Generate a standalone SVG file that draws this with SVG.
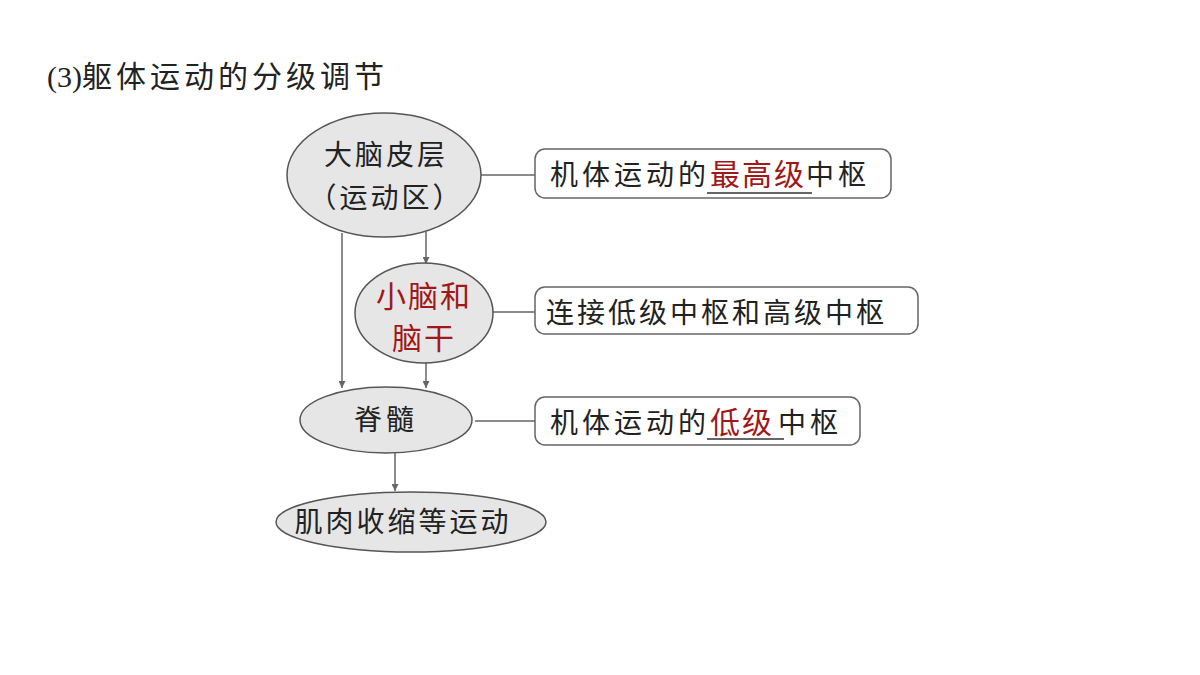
<svg xmlns="http://www.w3.org/2000/svg" width="1200" height="675" viewBox="0 0 1200 675">
<style>
.t{font-family:"Noto Sans CJK SC","Noto Sans",sans-serif;font-size:28px;fill:#222;letter-spacing:4px}
.e{fill:#e6e6e6;stroke:#555;stroke-width:1.5}
.b{fill:#fff;stroke:#666;stroke-width:1.5}
.c line{stroke:#666;stroke-width:1.5}
</style>
<defs><marker id="a" viewBox="0 0 10 10" refX="10" refY="5" markerWidth="7" markerHeight="7" orient="auto" markerUnits="userSpaceOnUse"><path d="M0,0L10,5L0,10z" fill="#666"/></marker></defs>
<rect width="1200" height="675" fill="#fff"/>
<text x="47" y="87" class="t" style="font-size:30px"><tspan font-family="Liberation Serif" style="letter-spacing:0">(3)</tspan>躯体运动的分级调节</text>
<g class="c">
<line x1="342" y1="233" x2="342" y2="388" marker-end="url(#a)"/>
<line x1="426" y1="232" x2="426" y2="264" marker-end="url(#a)"/>
<line x1="426" y1="362" x2="426" y2="388" marker-end="url(#a)"/>
<line x1="395" y1="453" x2="395" y2="491" marker-end="url(#a)"/>
<line x1="481" y1="175" x2="535" y2="175"/>
<line x1="492" y1="312" x2="535" y2="312"/>
<line x1="475" y1="421" x2="535" y2="421"/>
</g>
<g id="n1"><ellipse class="e" cx="384" cy="175" rx="97" ry="62"/><text class="t" x="386" y="165" text-anchor="middle" style="letter-spacing:3px">大脑皮层</text><text class="t" x="386" y="208" text-anchor="middle" style="letter-spacing:3px">（运动区）</text></g>
<g id="n2"><ellipse class="e" cx="424" cy="313" rx="69" ry="50"/><text class="t" x="424" y="307" text-anchor="middle" style="font-size:30px;fill:#a01818;letter-spacing:2px">小脑和</text><text class="t" x="424" y="349" text-anchor="middle" style="font-size:30px;fill:#a01818;letter-spacing:2px">脑干</text></g>
<g id="n3"><ellipse class="e" cx="386" cy="420" rx="86" ry="33"/><text class="t" x="386" y="430" text-anchor="middle">脊髓</text></g>
<g id="n4"><ellipse class="e" cx="411" cy="522" rx="135" ry="30"/><text class="t" x="403" y="532" text-anchor="middle" style="letter-spacing:3px">肌肉收缩等运动</text></g>
<g id="b1"><rect class="b" x="535" y="149" width="356" height="49" rx="10"/><text class="t" x="550" y="185">机体运动的<tspan style="fill:#a01818;font-size:30px;letter-spacing:2px">最高级</tspan>中枢</text><line x1="707" y1="193" x2="812" y2="193" stroke="#333" stroke-width="1.5"/></g>
<g id="b2"><rect class="b" x="535" y="287" width="383" height="47" rx="10"/><text class="t" x="546" y="323" style="letter-spacing:3px">连接低级中枢和高级中枢</text></g>
<g id="b3"><rect class="b" x="535" y="397" width="325" height="48" rx="10"/><text class="t" x="550" y="433">机体运动的<tspan style="fill:#a01818;font-size:30px;letter-spacing:2px">低级</tspan><tspan dx="4">中枢</tspan></text><line x1="707" y1="439" x2="784" y2="439" stroke="#333" stroke-width="1.5"/></g>
</svg>
